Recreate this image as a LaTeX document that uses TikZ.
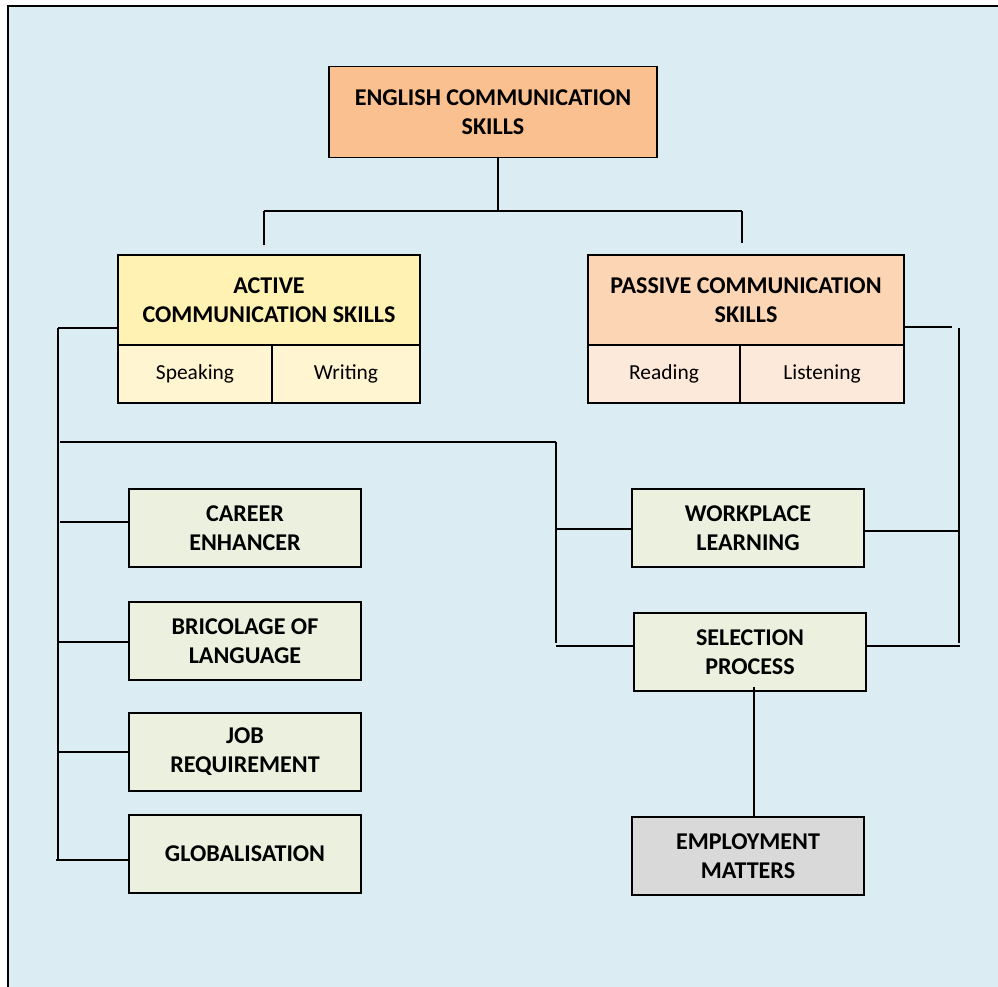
\documentclass[tikz,border=0pt]{standalone}
\usepackage{fontspec}
\setmainfont{Carlito}
\definecolor{sky_bg}{RGB}{219, 237, 243}
\definecolor{eng_orange}{RGB}{250, 192, 144}
\definecolor{act_yellow}{RGB}{255, 242, 178}
\definecolor{act_cell}{RGB}{255, 245, 208}
\definecolor{pas_peach}{RGB}{252, 213, 180}
\definecolor{pas_cell}{RGB}{253, 233, 217}
\definecolor{box_green}{RGB}{235, 241, 222}
\definecolor{emp_grey}{RGB}{217, 217, 217}
\tikzstyle{bx}=[rectangle,draw=black,line width=1.1pt,align=center,inner sep=2pt,
  font=\bfseries\fontsize{13.7}{16.5}\selectfont]
\tikzstyle{en}=[bx,fill=eng_orange,minimum width=6.56cm,minimum height=1.82cm]
\tikzstyle{ac}=[bx,fill=act_yellow,minimum width=6.04cm,minimum height=1.8cm]
\tikzstyle{acc}=[bx,fill=act_cell,font=\fontsize{12.2}{16.5}\selectfont,minimum height=1.16cm]
\tikzstyle{pc}=[bx,fill=pas_peach,minimum width=6.32cm,minimum height=1.8cm]
\tikzstyle{pcc}=[bx,fill=pas_cell,font=\fontsize{12.2}{16.5}\selectfont,minimum height=1.16cm]
\tikzstyle{gb}=[bx,fill=box_green,minimum width=4.64cm,minimum height=1.56cm]
\tikzstyle{eb}=[bx,fill=emp_grey,minimum width=4.64cm,minimum height=1.56cm]
\tikzstyle{none}=[inner sep=0pt,minimum size=0pt]

\begin{document}
\begin{tikzpicture}[x=0.02cm, y=-0.02cm, line width=0.9pt]
    \useasboundingbox (0, 0) rectangle (998, 987);
    \fill [sky_bg] (8, 6) rectangle (998, 987);
    \draw [line width=1.5pt] (8, 987) -- (8, 6) -- (998, 6);
    \node [style=en] (0) at (493, 112) {ENGLISH COMMUNICATION\\SKILLS};
    \node [style=ac] (1) at (269, 300) {ACTIVE\\COMMUNICATION SKILLS};
    \node [style=acc, minimum width=3.08cm] (2) at (195, 374) {Speaking};
    \node [style=acc, minimum width=2.96cm] (3) at (346, 374) {Writing};
    \node [style=pc] (4) at (746, 300) {PASSIVE COMMUNICATION\\SKILLS};
    \node [style=pcc, minimum width=3.04cm] (5) at (664, 374) {Reading};
    \node [style=pcc, minimum width=3.28cm] (6) at (822, 374) {Listening};
    \node [style=gb] (7) at (245, 528) {CAREER\\ENHANCER};
    \node [style=gb] (8) at (245, 641) {BRICOLAGE OF\\LANGUAGE};
    \node [style=gb] (9) at (245, 752) {JOB\\REQUIREMENT};
    \node [style=gb] (10) at (245, 854) {GLOBALISATION};
    \node [style=gb] (11) at (748, 528) {WORKPLACE\\LEARNING};
    \node [style=gb] (12) at (750, 652) {SELECTION\\PROCESS};
    \node [style=eb] (13) at (748, 856) {EMPLOYMENT\\MATTERS};
    \node [style=none] (14) at (498, 211) {};
    \node [style=none] (15) at (264, 211) {};
    \node [style=none] (16) at (742, 211) {};
    \node [style=none] (17) at (264, 245) {};
    \node [style=none] (18) at (742, 243) {};
    \node [style=none] (19) at (58, 328) {};
    \node [style=none] (20) at (58, 860) {};
    \node [style=none] (21) at (60, 522) {};
    \node [style=none] (22) at (58, 642) {};
    \node [style=none] (23) at (58, 752) {};
    \node [style=none] (24) at (56, 860) {};
    \node [style=none] (25) at (60, 442) {};
    \node [style=none] (26) at (556, 442) {};
    \node [style=none] (27) at (556, 643) {};
    \node [style=none] (28) at (556, 529) {};
    \node [style=none] (29) at (556, 646) {};
    \node [style=none] (30) at (952, 327) {};
    \node [style=none] (31) at (959, 328) {};
    \node [style=none] (32) at (959, 643) {};
    \node [style=none] (33) at (960, 531) {};
    \node [style=none] (34) at (960, 646) {};
    \node [style=none] (35) at (754, 687) {};
    \draw (0.south -| 14) to (14.center);
    \draw (15.center) to (16.center);
    \draw (15.center) to (17.center);
    \draw (16.center) to (18.center);
    \draw (1.west |- 19) to (19.center);
    \draw (19.center) to (20.center);
    \draw (21.center) to (7.west |- 21);
    \draw (22.center) to (8.west |- 22);
    \draw (23.center) to (9.west |- 23);
    \draw (24.center) to (10.west |- 24);
    \draw (25.center) to (26.center);
    \draw (26.center) to (27.center);
    \draw (28.center) to (11.west |- 28);
    \draw (29.center) to (12.west |- 29);
    \draw (4.east |- 30) to (30.center);
    \draw (31.center) to (32.center);
    \draw (11.east |- 33) to (33.center);
    \draw (12.east |- 34) to (34.center);
    \draw (35.center) to (13.north -| 35);
\end{tikzpicture}
\end{document}
